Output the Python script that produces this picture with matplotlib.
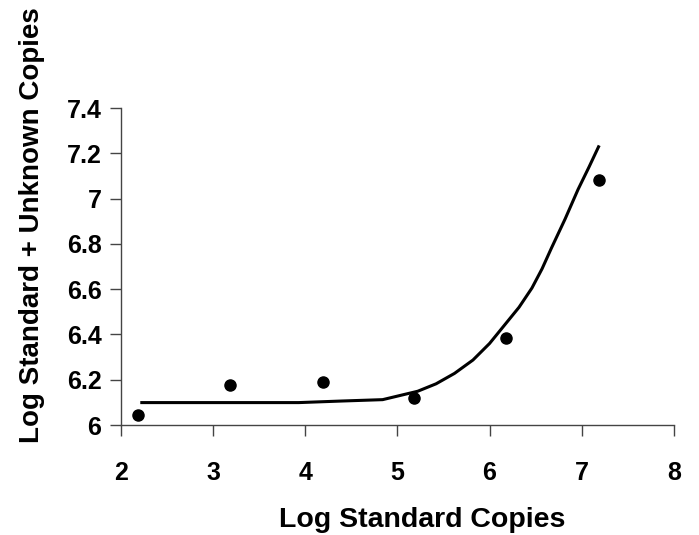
import matplotlib
matplotlib.use("Agg")
import matplotlib.pyplot as plt

# measured points
std_log = [2.18, 3.18, 4.19, 5.18, 6.18, 7.19]
total_log = [6.044, 6.175, 6.192, 6.12, 6.383, 7.083]

# fitted curve
fit_x = [2.21, 2.8, 3.4, 3.93, 4.4, 4.84, 5.22, 5.42, 5.62, 5.82, 6.0, 6.17, 6.32, 6.46, 6.57, 6.67, 6.82, 6.96, 7.08, 7.19]
fit_y = [6.099, 6.099, 6.099, 6.099, 6.106, 6.112, 6.149, 6.182, 6.228, 6.287, 6.36, 6.445, 6.52, 6.605, 6.69, 6.78, 6.91, 7.04, 7.14, 7.235]

xticks = [2, 3, 4, 5, 6, 7, 8]
yticks = [6, 6.2, 6.4, 6.6, 6.8, 7, 7.2, 7.4]
ytick_labels = ["6", "6.2", "6.4", "6.6", "6.8", "7", "7.2", "7.4"]

plt.rcParams["font.family"] = ["Liberation Sans", "DejaVu Sans"]
plt.rcParams["font.weight"] = "bold"

fig = plt.figure(figsize=(6.99, 5.35), dpi=100)
ax = fig.add_axes([0.173, 0.2056, 0.791, 0.5924])

ax.plot(fit_x, fit_y, color="black", lw=2.2, solid_capstyle="butt")
ax.plot(std_log, total_log, "o", color="black", ms=8)

ax.set_xlim(2, 8)
ax.set_ylim(6, 7.4)
ax.set_xticks(xticks)
ax.set_yticks(yticks)
ax.set_yticklabels(ytick_labels)

for s in ["top", "right"]:
    ax.spines[s].set_visible(False)
for s in ["left", "bottom"]:
    ax.spines[s].set_color("#444444")
    ax.spines[s].set_linewidth(1.0)

ax.tick_params(axis="both", direction="out", length=8, width=1.0, color="#444444",
               labelsize=18)
ax.tick_params(axis="x", pad=18)
ax.tick_params(axis="y", pad=6)

ax.set_xlabel("Log Standard Copies", fontsize=20.5, fontweight="bold")
ax.set_ylabel("Log Standard + Unknown Copies", fontsize=20, fontweight="bold")
ax.xaxis.set_label_coords(0.544, -0.259)
ax.yaxis.set_label_coords(-0.137, 0.63)

fig.savefig("out.png", dpi=100)
